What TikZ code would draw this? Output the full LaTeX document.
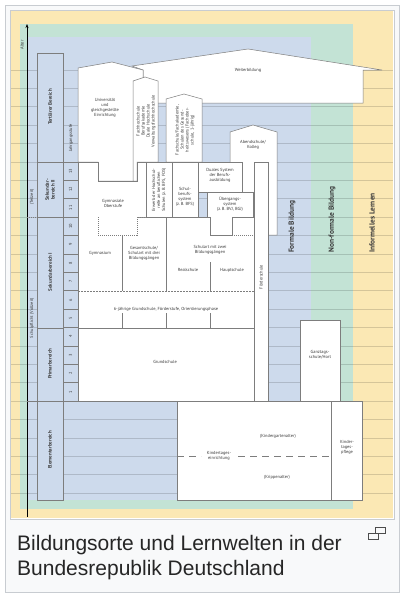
\documentclass[tikz,border=0pt]{standalone}
\usepackage{fontspec}
\setmainfont{Liberation Sans}
\newfontfamily\diafont{PT Sans}
\usetikzlibrary{arrows.meta,positioning}
\definecolor{infgelb}{HTML}{FBE8B4}
\definecolor{nfgruen}{HTML}{C3E3D5}
\definecolor{fblau}{HTML}{CDDAEC}
\definecolor{rahmen}{HTML}{C8CCD1}
\definecolor{grund}{HTML}{F8F9FA}
\definecolor{kante}{HTML}{7D7D7D}
\definecolor{schrift}{HTML}{3A3A3A}
\begin{document}
\begin{tikzpicture}[x=1pt, y=-1pt,
    feld/.style={draw=kante, fill=white, line width=0.5pt},
    spalte/.style={draw=kante, fill=fblau, line width=0.5pt},
    gitter/.style={draw=black, opacity=0.15, line width=0.5pt},
    linie/.style={draw=kante, line width=0.5pt},
    punkt/.style={draw=kante, line width=0.5pt, dash pattern=on 1pt off 1pt},
    strich/.style={draw=kante, line width=0.6pt, dash pattern=on 7pt off 5pt},
    txt/.style={font=\diafont\fontsize{4.4}{5}\selectfont, text=schrift, align=center, inner sep=0pt},
    senk/.style={txt, rotate=90},
    bereich/.style={font=\diafont\bfseries\fontsize{5}{5.8}\selectfont, text=schrift, align=center, inner sep=0pt, rotate=90},
    welt/.style={font=\diafont\bfseries\fontsize{7.4}{8}\selectfont, text=schrift, inner sep=0pt, rotate=90, anchor=west},
    achse/.style={draw=black, line width=0.6pt, -{Stealth[length=4pt,width=3pt]}}
]
\useasboundingbox (0,0) rectangle (408,600);
% Rahmen und Lernwelten
\draw[draw=rahmen, fill=grund] (5,5) rectangle (399,592);
\draw[draw=rahmen, fill=white] (10,10) rectangle (394,519);
\fill[infgelb] (11,11) rectangle (393,518);
\fill[nfgruen] (20,24) rectangle (353,509);
\fill[fblau] (27,37) rectangle (311,500);
\foreach \k in {-5,...,18}
    \draw[gitter] (11,{401-18.4*\k}) -- (393,{401-18.4*\k});

% Altersachse
\coordinate (achse-u) at (27,517);
\coordinate (achse-o) at (27,24);
\draw[achse] (achse-u) -- (achse-o);
\node[senk] (alter) at (22,45) {Alter};
\draw[punkt] (27,217) -- (37,217);
\draw[linie] (27,401) -- (78,401);

% Bereiche und Jahrgangsstufen
\draw[spalte] (37,53) rectangle (63,162);
\draw[spalte] (37,162) rectangle (63,217);
\draw[spalte] (37,217) rectangle (63,328);
\draw[spalte] (37,328) rectangle (63,401);
\draw[spalte] (37,401) rectangle (63,500);
\foreach \n in {1,...,13}{
    \draw[spalte] (63,{401-18.4*(\n-1)}) rectangle (78,{401-18.4*\n});
    \node[senk] (jg\n) at (70.5,{401-18.4*(\n-0.5)}) {\n};
}
\node[bereich] (tertiaer) at (50,107) {Terti\"arer Bereich};
\node[bereich] (sek2) at (50,190) {Sekundar-\\bereich II};
\node[bereich] (sek1) at (50,272) {Sekundarbereich I};
\node[bereich] (primar) at (50,364) {Primarbereich};
\node[bereich] (elementar) at (50,450) {Elementarbereich};
\node[senk] (jgstufe) at (71,138) {Jahrgangsstufe};
\node[senk] (teilzeit) at (32,197) {(Teilzeit)};
\node[senk] (vollzeit) at (32,318) {Schulpflicht (Vollzeit)};

% Tertiaerer Bereich und Weiterbildung
\draw[feld] (132,66) -- (248,49) -- (382,70) -- (363,70) -- (363,103) -- (143,103) -- (143,70) -- cycle;
\draw[feld] (78,162) -- (78,68) -- (112,62) -- (143,70) -- (143,181) -- (98,181) -- (98,162) -- cycle;
\draw[feld] (133,181) -- (133,81) -- (145,77) -- (158,81) -- (158,162) -- (137,162) -- (137,181) -- cycle;
\draw[feld] (166,162) -- (166,99) -- (184,94) -- (202,99) -- (202,162) -- cycle;
\draw[feld] (230,235) -- (230,132) -- (253,125) -- (277,132) -- (277,235) -- cycle;

% Sekundarbereich I und Primarbereich
\draw[feld] (78,217) rectangle (254,328);
\draw[feld, line width=0.9pt] (78,328) rectangle (254,401);
\fill[white] (78,217) -- (78,162) -- (98,162) -- (98,181) -- (137,181) -- (137,162) -- (146,162) -- (146,217) -- (137,217) -- (137,235) -- (98,235) -- (98,217) -- cycle;
\draw[linie] (78,217) -- (78,162) -- (98,162) -- (98,181) -- (137,181) -- (137,162) -- (146,162);
\draw[punkt] (78,217) -- (98,217) -- (98,235) -- (137,235) -- (137,217) -- (166,217);
\fill[white] (79,217.4) rectangle (97.6,234.6);
\draw[feld] (146,162) rectangle (172,217);
\draw[feld] (172,162) rectangle (198,217);
\draw[feld] (198,162) rectangle (242,192);
\draw[feld] (207,217) -- (207,192) -- (253,192) -- (253,217) -- (232,217) -- (232,235) -- (210,235) -- (210,217) -- cycle;
\draw[punkt] (232,235) -- (253,235);
\draw[linie] (122,235) -- (122,291) (166,217) -- (166,291) (210,262) -- (210,291);
\foreach \s in {122,166,210}
    \draw[linie] (\s,313) -- (\s,328);
\draw[dash pattern=on 1.5pt off 1.5pt, draw=kante, line width=0.5pt] (78,291) -- (254,291);
\draw[feld] (254,162) rectangle (268,401);
\draw[feld] (300,320) rectangle (340,401);

% Elementarbereich
\draw[feld] (177,401) rectangle (331,500);
\draw[feld] (331,401) rectangle (362,500);
\draw[strich] (177,456) -- (201,456);
\draw[strich] (238,456) -- (331,456);

% Beschriftungen
\node[txt] (weiterb) at (248,70) {Weiterbildung};
\node[txt] (uni) at (105,108) {Universit\"at\\und\\gleichgestellte\\Einrichtung};
\node[senk] (fh) at (146,121) {Fachhochschule\\Berufsakademie\\Duale Hochschule\\Verwaltungsfachhochschule};
\node[senk] (fs) at (185,130) {Fachschule/Fachakademie,\\Schulen des Gesund-\\heitswesens (Fachober-\\schule, 1-j\"ahrig)};
\node[txt] (abend) at (253,145) {Abendschule/\\Kolleg};
\node[txt] (dual) at (220,175) {Duales System\\der Berufs-\\ausbildung};
\node[txt] (uebergang) at (230,204) {\"Ubergangs-\\system\\(z.\,B. BVJ, BGJ)};
\node[txt] (schulberuf) at (185,197) {Schul-\\berufs-\\system\\(z.\,B. BFS)};
\node[senk] (erwerb) at (159,190) {Erwerb der Hochschul-\\reife an beruflichen\\Schulen (z.\,B. BFS, FOS)};
\node[txt] (oberstufe) at (113,203) {Gymnasiale\\Oberstufe};
\node[txt] (gymn) at (100,253) {Gymnasium};
\node[txt] (gesamt) at (144,253) {Gesamtschule/\\Schulart mit drei\\Bildungsg\"angen};
\node[txt] (zwei) at (210,250) {Schulart mit zwei\\Bildungsg\"angen};
\node[txt] (real) at (188,270) {Realschule};
\node[txt] (haupt) at (232,270) {Hauptschule};
\node[txt] (orient) at (166,309) {6-j\"ahrige Grundschule, F\"orderstufe, Orientierungsphase};
\node[senk] (foerder) at (261,277) {F\"orderschule};
\node[txt] (grund) at (165,362) {Grundschule};
\node[txt] (ganztag) at (320,355) {Ganztags-\\schule/Hort};
\node[txt] (kita) at (219,456) {Kindertages-\\einrichtung};
\node[txt] (kigalter) at (278,436) {(Kindergartenalter)};
\node[txt] (krippe) at (277,477) {(Krippenalter)};
\node[txt] (pflege) at (347,447) {Kinder-\\tages-\\pflege};
\node[welt] (formal) at (292,253) {Formale Bildung};
\node[welt] (nonformal) at (332,253) {Non-formale Bildung};
\node[welt] (informell) at (372,253) {Informelles Lernen};

% Bildunterschrift
\node[anchor=base west, inner sep=0pt, font=\fontsize{21}{25}\selectfont, text=black!85] (titel1) at (17,550) {Bildungsorte und Lernwelten in der};
\node[anchor=base west, inner sep=0pt, font=\fontsize{21}{25}\selectfont, text=black!85] (titel2) at (17,575) {Bundesrepublik Deutschland};
\draw[draw=black!70, line width=0.8pt] (375,527.5) rectangle (385,533.5);
\draw[draw=black!70, fill=grund, line width=0.8pt] (368,533.5) rectangle (378,539);
\end{tikzpicture}
\end{document}
